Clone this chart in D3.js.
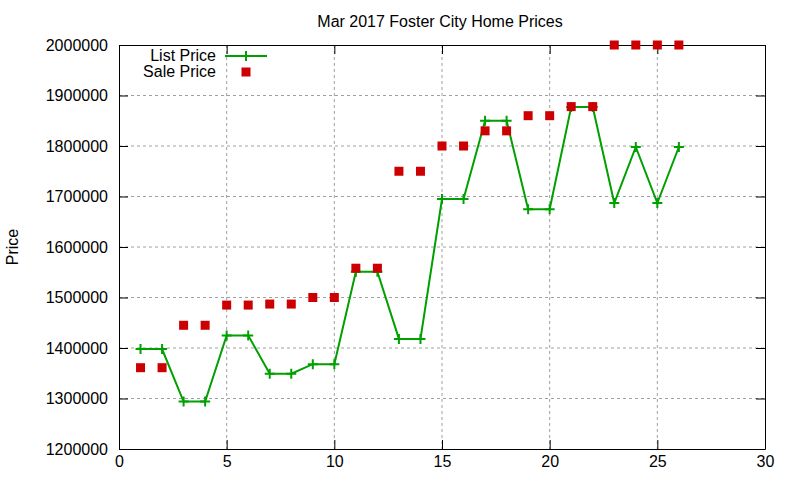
<!DOCTYPE html>
<html>
<head>
<meta charset="utf-8">
<script src="https://cdn.jsdelivr.net/npm/d3@7"></script>
<style>
body { margin: 0; background: #fff; }
text { font-family: "Liberation Sans", Arial, sans-serif; fill: #000; }
</style>
</head>
<body>
<script>
let listX = [1, 2, 3, 4, 5, 6, 7, 8, 9, 10, 11, 12, 13, 14, 15, 16, 17, 18, 19, 20, 21, 22, 23, 24, 25, 26];
let listPrice = [1398000, 1398000, 1294000, 1294000, 1425000, 1425000, 1349000, 1349000, 1368000, 1368000,
    1551000, 1551000, 1418000, 1418000, 1695000, 1695000, 1850000, 1850000, 1675000, 1675000,
    1877000, 1877000, 1687000, 1798000, 1687000, 1798000];
let salePrice = [1361000, 1361000, 1445000, 1445000, 1485000, 1485000, 1487000, 1487000, 1500000, 1500000,
    1558000, 1558000, 1750000, 1750000, 1800000, 1800000, 1830000, 1830000, 1860000, 1860000,
    1878000, 1878000, 2000000, 2000000, 2000000, 2000000];
let xTicks = [0, 5, 10, 15, 20, 25, 30];
let yTicks = [1200000, 1300000, 1400000, 1500000, 1600000, 1700000, 1800000, 1900000, 2000000];

let margin = {top: 45, right: 35, bottom: 31, left: 119};
let outerWidth = 800;
let outerHeight = 480;
let width = outerWidth - margin.left - margin.right;
let height = outerHeight - margin.top - margin.bottom;

let lineColor = "#00a000";
let pointColor = "#cc0000";
let fontSize = "16px";

let svg = d3.select("body")
    .append("svg")
    .attr("width", outerWidth)
    .attr("height", outerHeight);

let g = svg.append("g")
    .attr("transform", "translate(" + margin.left + "," + margin.top + ")");

let xScale = d3.scaleLinear().domain([0, 30]).range([0, width]);
let yScale = d3.scaleLinear().domain([1200000, 2000000]).range([height, 0]);

// grid
g.selectAll(".hgrid")
    .data(yTicks.slice(1, -1))
    .enter()
    .append("line")
    .attr("x1", 0).attr("x2", width)
    .attr("y1", d => yScale(d)).attr("y2", d => yScale(d))
    .attr("stroke", "#a0a0a0").attr("stroke-dasharray", "3,3");
g.selectAll(".vgrid")
    .data(xTicks.slice(1, -1))
    .enter()
    .append("line")
    .attr("y1", 0).attr("y2", height)
    .attr("x1", d => xScale(d)).attr("x2", d => xScale(d))
    .attr("stroke", "#a0a0a0").attr("stroke-dasharray", "3,3");

// axes, ticks drawn inward and mirrored
let fmt = d3.format("d");
let leftAxis = g.append("g").call(d3.axisLeft(yScale).tickValues(yTicks).tickFormat(fmt).tickSizeInner(-9).tickSizeOuter(0).tickPadding(11));
let rightAxis = g.append("g").attr("transform", "translate(" + width + ",0)")
    .call(d3.axisRight(yScale).tickValues(yTicks).tickFormat("").tickSizeInner(-9).tickSizeOuter(0));
let bottomAxis = g.append("g").attr("transform", "translate(0," + height + ")")
    .call(d3.axisBottom(xScale).tickValues(xTicks).tickFormat(fmt).tickSizeInner(-9).tickSizeOuter(0).tickPadding(7));
let topAxis = g.append("g")
    .call(d3.axisTop(xScale).tickValues(xTicks).tickFormat("").tickSizeInner(-9).tickSizeOuter(0));
[leftAxis, rightAxis, bottomAxis, topAxis].forEach(function(a) {
    a.selectAll("path").attr("stroke", "#000").attr("stroke-width", 1);
    a.selectAll("line").attr("stroke", "#000");
    a.selectAll("text").style("font-size", fontSize).style("font-family", "'Liberation Sans', Arial, sans-serif");
});

// list price line
let lineGenerator = d3.line()
    .x((d, i) => xScale(listX[i]))
    .y(d => yScale(d));

g.append("path")
    .attr("d", lineGenerator(listPrice))
    .attr("fill", "none")
    .attr("stroke", lineColor)
    .attr("stroke-width", 2);

function plus(sel, cx, cy) {
    sel.append("path")
        .attr("d", "M" + (cx - 5) + "," + cy + "H" + (cx + 5) + "M" + cx + "," + (cy - 5) + "V" + (cy + 5))
        .attr("stroke", lineColor)
        .attr("stroke-width", 2)
        .attr("fill", "none");
}

listPrice.forEach(function(d, i) {
    plus(g, xScale(listX[i]), yScale(d));
});

// sale price points
g.selectAll(".sale")
    .data(salePrice)
    .enter()
    .append("rect")
    .attr("class", "sale")
    .attr("x", (d, i) => xScale(listX[i]) - 4.5)
    .attr("y", d => yScale(d) - 4.5)
    .attr("width", 9)
    .attr("height", 9)
    .attr("fill", pointColor);

// legend
let legend = svg.append("g");
legend.append("text")
    .attr("x", 216).attr("y", 61)
    .attr("text-anchor", "end")
    .style("font-size", fontSize)
    .text("List Price");
legend.append("line")
    .attr("x1", 225).attr("x2", 267).attr("y1", 56).attr("y2", 56)
    .attr("stroke", lineColor).attr("stroke-width", 2);
plus(legend, 246, 56);
legend.append("text")
    .attr("x", 216).attr("y", 77)
    .attr("text-anchor", "end")
    .style("font-size", fontSize)
    .text("Sale Price");
legend.append("rect")
    .attr("x", 241.5).attr("y", 67.5).attr("width", 9).attr("height", 9)
    .attr("fill", pointColor);

// title and axis label
svg.append("text")
    .attr("x", 440).attr("y", 27)
    .attr("text-anchor", "middle")
    .style("font-size", fontSize)
    .text("Mar 2017 Foster City Home Prices");

svg.append("text")
    .attr("transform", "translate(18," + (margin.top + height / 2) + ") rotate(-90)")
    .attr("text-anchor", "middle")
    .style("font-size", fontSize)
    .text("Price");
</script>
</body>
</html>
